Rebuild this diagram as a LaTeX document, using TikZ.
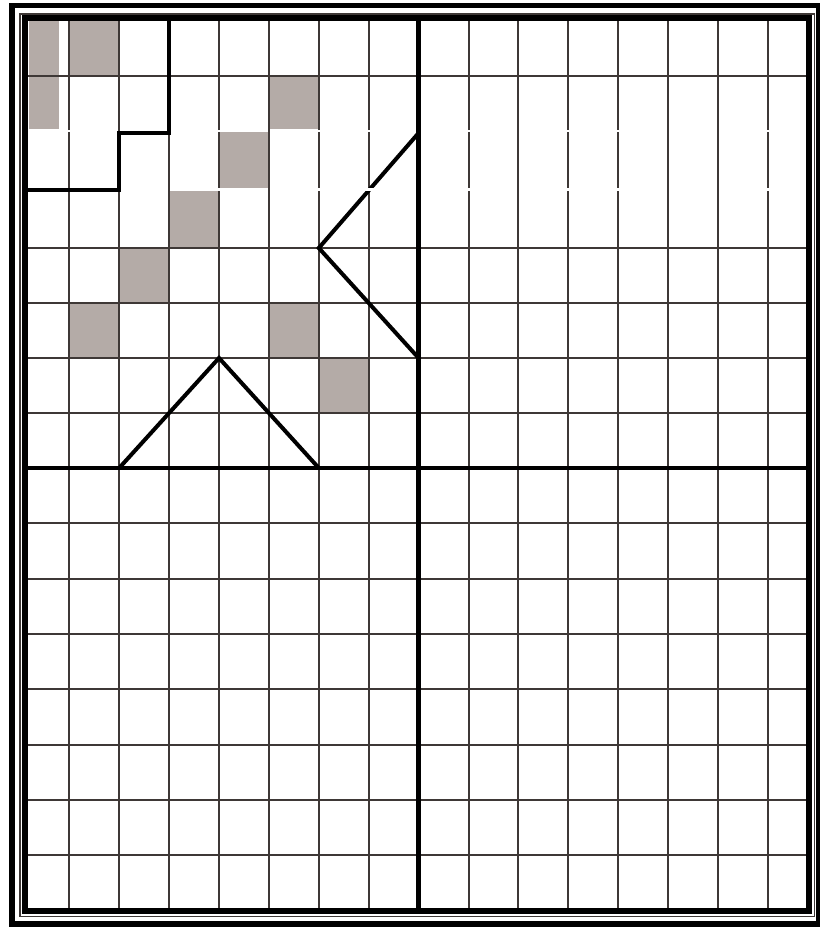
\documentclass[tikz,border=0pt]{standalone}
\begin{document}
\definecolor{gridc}{RGB}{62,56,54}
\definecolor{cellc}{RGB}{180,171,167}
\begin{tikzpicture}[x=1pt,y=-1pt,
  gridline/.style={draw=gridc,line width=2pt},
  midline/.style={draw=black,line width=4.4pt},
  boldline/.style={draw=black,line width=4pt,line join=miter},
  cell/.style={fill=cellc},
  gapmark/.style={fill=white}]
\useasboundingbox (0,0) rectangle (820,930);
\fill[white] (0,0) rectangle (820,930);
% shaded cells
\fill[cell] (29,21) rectangle (59,129);
\fill[cell] (69.3,21) rectangle (119.2,75.5);
\fill[cell] (268.9,75.5) rectangle (318.8,129);
\fill[cell] (219,132) rectangle (268.9,187.5);
\fill[cell] (169.1,191) rectangle (219,248);
\fill[cell] (119.2,248) rectangle (169.1,303);
\fill[cell] (69.3,303) rectangle (119.2,358);
\fill[cell] (268.9,303) rectangle (318.8,358);
\fill[cell] (318.8,358) rectangle (368.7,413);
% vertical grid lines
\foreach \k in {0,...,14}{
  \pgfmathsetmacro{\xx}{69.3+49.9*\k}
  \draw[gridline] (\xx,21) -- (\xx,908);
}
% horizontal grid lines
\foreach \yy in {75.5,248,303,358,413}{
  \draw[gridline] (28,\yy) -- (806,\yy);
}
\foreach \k in {1,...,7}{
  \pgfmathsetmacro{\yy}{468+55.3*\k}
  \draw[gridline] (28,\yy) -- (806,\yy);
}
% erased-line notches
\foreach \xx in {69.3,219,318.8,368.7,418.6,468.5,568.3,618.2,767.9}{
  \fill[gapmark] (\xx-3.5,129.5) rectangle (\xx+3.5,132);
}
\foreach \xx in {219,318.8,418.6,468.5,568.3,618.2,767.9}{
  \fill[gapmark] (\xx-3.5,188) rectangle (\xx+3.5,190.5);
}
% middle axes
\draw[midline] (418.6,21) -- (418.6,908);
\draw[midline] (28,468) -- (806,468);
% bold figures
\draw[boldline] (169.1,21) -- (169.1,132.5) -- (119.2,132.5) -- (119.2,190) -- (28,190);
\draw[boldline] (418.6,133) -- (318.8,248) -- (418.6,358);
\fill[gapmark] (364,187.5) rectangle (374,190.5);
\draw[boldline] (119.2,468) -- (219,358) -- (318.8,468);
% frame
\draw[line width=5.7pt] (12,5.5) rectangle (818.5,923.7);
\draw[gridc,line width=1.2pt] (20,14) rectangle (814.7,916.5);
\draw[line width=6.2pt] (25.3,18.2) rectangle (809,911);
\end{tikzpicture}
\end{document}
